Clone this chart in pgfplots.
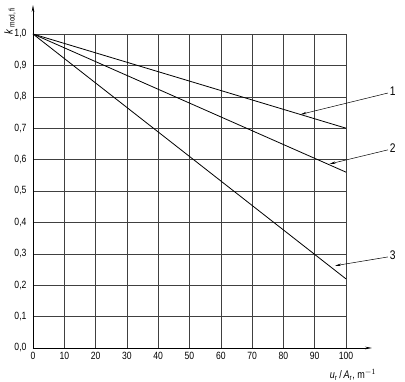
\documentclass[border=0pt]{standalone}
\usepackage{pgfplots}
\pgfplotsset{compat=1.18}
\usepackage{fontspec}
\setmainfont{Liberation Sans}[FakeStretch=0.82]
\usetikzlibrary{arrows.meta}
\begin{document}
\fontsize{10}{12}\selectfont
\begin{tikzpicture}
\path[use as bounding box] (-33pt,-34pt) rectangle (372pt,348pt);
\begin{axis}[
  anchor=origin, at={(0pt,0pt)},
  scale only axis, width=313pt, height=314pt,
  xmin=0, xmax=100, ymin=0, ymax=1,
  clip=false,
  axis lines=left,
  x axis line style={-{Stealth[length=7pt,width=2.6pt]}, shorten >=-26pt, line width=0.6pt},
  y axis line style={-{Stealth[length=7pt,width=2.6pt]}, shorten >=-29pt, line width=0.6pt},
  xtick={0,10,...,100},
  ytick={0,0.1,...,1.0},
  major tick length=0pt,
  grid=major,
  major grid style={black!75, line width=0.5pt},
  /pgf/number format/assume math mode=true,
  tick label style={font=\fontsize{10.5}{12}\selectfont},
  yticklabel style={/pgf/number format/use comma, /pgf/number format/fixed, /pgf/number format/fixed zerofill, /pgf/number format/precision=1, xshift=-3pt},
  xticklabel style={/pgf/number format/fixed, /pgf/number format/precision=0, yshift=-1pt},
]
\addplot[black, line width=0.8pt] coordinates {(0,1) (100,0.70)};
\addplot[black, line width=0.8pt] coordinates {(0,1) (100,0.56)};
\addplot[black, line width=0.8pt] coordinates {(0,1) (100,0.22)};
% leaders
\draw[black, line width=0.5pt, -{Stealth[length=6pt,width=2.4pt]}] (axis cs:113.4,0.812) -- (axis cs:85.5,0.744);
\draw[black, line width=0.5pt, -{Stealth[length=6pt,width=2.4pt]}] (axis cs:113.4,0.631) -- (axis cs:94.7,0.586);
\draw[black, line width=0.5pt, -{Stealth[length=6pt,width=2.4pt]}] (axis cs:113.4,0.290) -- (axis cs:96.5,0.262);
\node[anchor=west, inner sep=1pt, font=\fontsize{12.5}{14}\selectfont] at (axis cs:113.6,0.818) {1};
\node[anchor=west, inner sep=1pt, font=\fontsize{12.5}{14}\selectfont] at (axis cs:113.6,0.637) {2};
\node[anchor=west, inner sep=1pt, font=\fontsize{12.5}{14}\selectfont] at (axis cs:113.6,0.296) {3};
\node[rotate=90, font=\fontsize{11.5}{13}\selectfont] at ([xshift=-23pt, yshift=13pt]rel axis cs:0,1) {\textit{k}\,\textsubscript{mod,\,fi}};
\node[font=\fontsize{11}{13}\selectfont] at ([xshift=7pt, yshift=-27pt]rel axis cs:1,0) {\textit{u}\textsubscript{r}\,/\,\textit{A}\textsubscript{r}, m\textsuperscript{$-1$}};
\end{axis}
\end{tikzpicture}
\end{document}
